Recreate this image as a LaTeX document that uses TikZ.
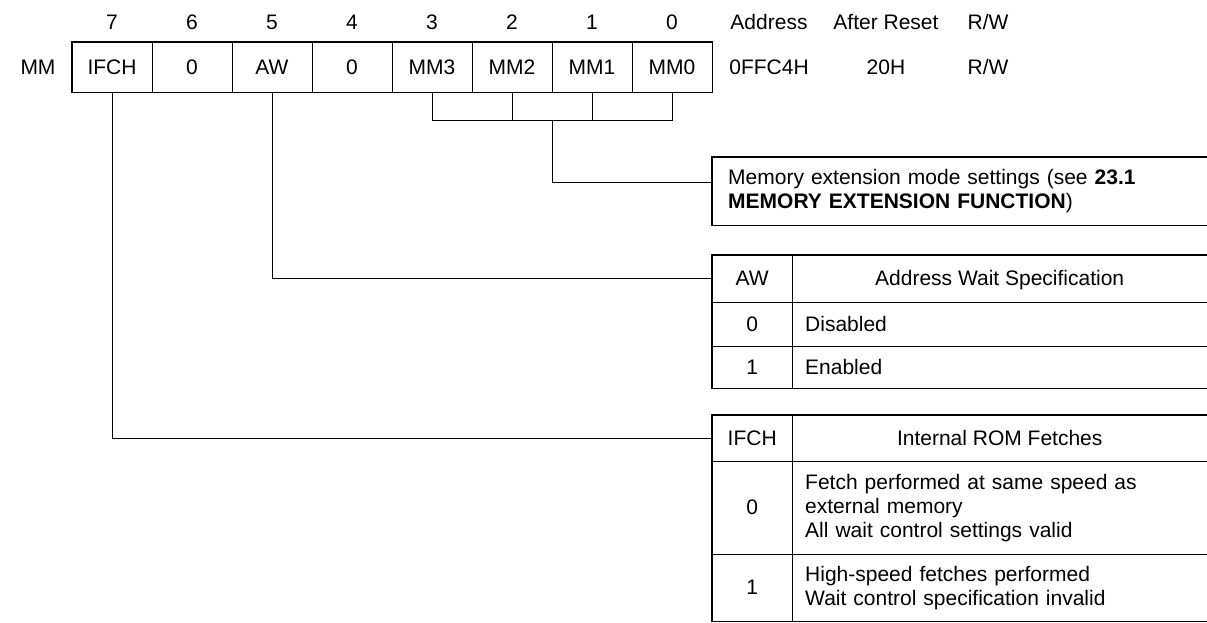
\documentclass[tikz,border=0pt]{standalone}
\usepackage{fontspec}
\setmainfont{Liberation Sans}
\usetikzlibrary{calc}
\begin{document}
\begin{tikzpicture}[x=1pt,y=-1pt,
  font=\fontsize{21}{24}\selectfont,
  thk/.style={line width=1.5pt},
  mid/.style={line width=1.0pt},
  thn/.style={line width=0.6pt},
  fixh/.style={text height=18pt, text depth=3.5pt},
  reg/.style={draw, thn, fixh, minimum width=80pt, minimum height=50pt, inner sep=0pt},
  lbl/.style={inner sep=0pt, fixh},
  kcell/.style={inner sep=0pt, fixh, minimum width=80pt, anchor=north west},
  dcell/.style={inner xsep=13pt, inner ysep=0pt, text width=389pt, align=left, anchor=north west},
  hcell/.style={inner sep=0pt, fixh, minimum width=415pt, anchor=north west},
]
\useasboundingbox (0,0) rectangle (1207,623);

% bit numbers and register cells
\foreach \i/\t [evaluate=\i as \xx using 112+80*(7-\i)] in {7/IFCH,6/0,5/AW,4/0,3/MM3,2/MM2,1/MM1,0/MM0}{
  \node[lbl] (n\i) at (\xx,22) {\i};
  \node[reg] (b\i) at (\xx,67) {\t};
}
\draw[thk] (b7.north west) rectangle (b0.south east);
\node[lbl] (mm) at (38,67) {MM};

\node[lbl] (haddr) at (769,22) {Address};
\node[lbl] (hrst) at (886,22) {After Reset};
\node[lbl] (hrw) at (988,22) {R/W};
\node[lbl] (vaddr) at (769,67) {0FFC4H};
\node[lbl] (vrst) at (886,67) {20H};
\node[lbl] (vrw) at (988,67) {R/W};

% memory extension box
\node[inner xsep=16pt, inner ysep=0pt, text width=463pt, align=left, minimum height=68pt, anchor=north west] (mem) at (712,157)
  {Memory extension mode settings (see \textbf{23.1}\\\textbf{MEMORY EXTENSION FUNCTION})};
\draw[thk] (mem.north east) -- (mem.north west) -- (mem.south west) -- (mem.south east);

% MM3..MM0 bracket
\coordinate (brk) at (552,120);
\draw[thn] (b3.south) |- (b0.south |- brk) -- (b0.south);
\draw[thn] (b2.south) -- (b2.south |- brk);
\draw[thn] (b1.south) -- (b1.south |- brk);
\coordinate (memin) at ($(mem.north west)+(0,25)$);
\draw[thn] (brk) |- (memin);

% AW table
\node[kcell, minimum height=47pt] (awk) at (712,255) {AW};
\node[hcell, minimum height=47pt] (awd) at (792,255) {Address Wait Specification};
\node[kcell, minimum height=44pt] (aw0k) at (712,302) {0};
\node[dcell, fixh, minimum height=44pt] (aw0d) at (792,302) {Disabled};
\node[kcell, minimum height=42pt] (aw1k) at (712,346) {1};
\node[dcell, fixh, minimum height=42pt] (aw1d) at (792,346) {Enabled};
\draw[thk] (awd.north east) -- (awk.north west) -- (aw1k.south west) -- (aw1d.south east);
\draw[thk] (awk.north east) -- (aw1k.south east);
\draw[mid] (awk.south west) -- (awd.south east);
\draw[thn] (aw0k.south west) -- (aw0d.south east);
\draw[thn] (b5.south) |- (awk.west);

% IFCH table
\node[kcell, minimum height=46pt] (ifk) at (712,415) {IFCH};
\node[hcell, minimum height=46pt] (ifd) at (792,415) {Internal ROM Fetches};
\node[kcell, minimum height=93pt] (if0k) at (712,461) {0};
\node[dcell, minimum height=93pt] (if0d) at (792,461) {Fetch performed at same speed as\\external memory\\All wait control settings valid};
\node[kcell, minimum height=67pt] (if1k) at (712,554) {1};
\node[dcell, minimum height=67pt] (if1d) at (792,554) {High-speed fetches performed\\Wait control specification invalid};
\draw[thk] (ifd.north east) -- (ifk.north west) -- (if1k.south west) -- (if1d.south east);
\draw[thk] (ifk.north east) -- (if1k.south east);
\draw[mid] (ifk.south west) -- (ifd.south east);
\draw[thn] (if0k.south west) -- (if0d.south east);
\draw[thn] (b7.south) |- (ifk.west);
\end{tikzpicture}
\end{document}
